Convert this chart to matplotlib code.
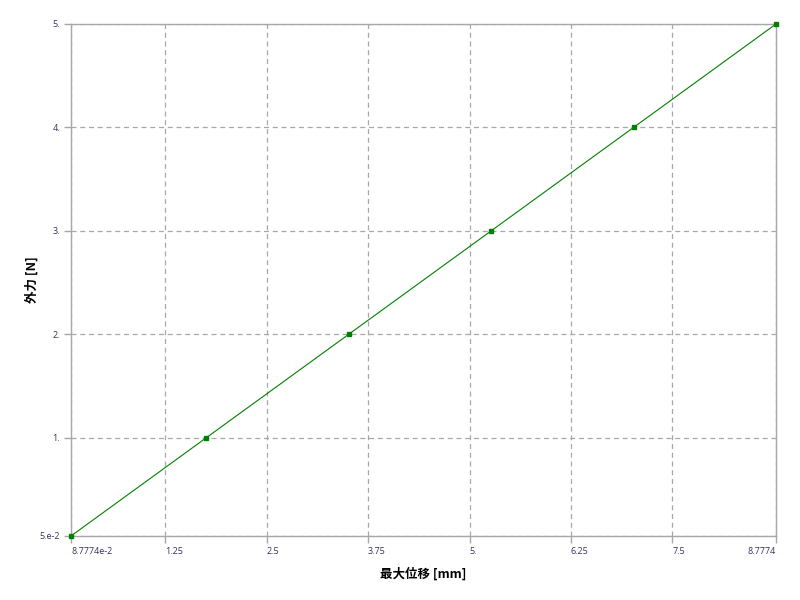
import matplotlib
matplotlib.use("Agg")
import matplotlib.pyplot as plt

plt.rcParams['font.family'] = ['Noto Sans CJK JP', 'DejaVu Sans']

x_disp = [0.087774, 1.7555, 3.5110, 5.2664, 7.0219, 8.7774]
y_force = [0.05, 1.0, 2.0, 3.0, 4.0, 5.0]
x_ticks = [0.087774, 1.25, 2.5, 3.75, 5.0, 6.25, 7.5, 8.7774]
x_tick_labels = ["8.7774e-2", "1.25", "2.5", "3.75", "5.", "6.25", "7.5", "8.7774"]
y_ticks = [0.05, 1.0, 2.0, 3.0, 4.0, 5.0]
y_tick_labels = ["5.e-2", "1.", "2.", "3.", "4.", "5."]
x_label = "最大位移 [mm]"
y_label = "外力 [N]"

fig = plt.figure(figsize=(8, 6), dpi=100)
ax = fig.add_axes([0.08875, 0.10667, 0.88125, 0.85333])

ax.plot(x_disp, y_force, color="#008000", lw=0.8, marker="s", ms=2.2,
        markerfacecolor="#008000", markeredgecolor="#008000", zorder=3, clip_on=False)

ax.set_xlim(x_ticks[0], x_ticks[-1])
ax.set_ylim(y_ticks[0], y_ticks[-1])
ax.set_xticks(x_ticks)
ax.set_xticklabels(x_tick_labels, fontfamily=['Open Sans', 'DejaVu Sans'])
ax.set_yticks(y_ticks)
ax.set_yticklabels(y_tick_labels, fontfamily=['Open Sans', 'DejaVu Sans'])
xl = ax.get_xticklabels()
for i, t in enumerate(xl):
    t.set_ha("right" if i == len(xl) - 1 else "left")

ax.grid(True, color="#a8a8a8", linestyle=(0, (4, 3)), linewidth=0.9)
for s in ax.spines.values():
    s.set_color("#a8a8a8")
    s.set_linewidth(1.0)
ax.tick_params(axis="both", colors="#a8a8a8", labelcolor="#333355", labelsize=6.5,
               length=5, width=1.0, pad=3)

ax.set_xlabel(x_label, fontsize=9, fontweight="bold", labelpad=8)
ax.set_ylabel(y_label, fontsize=9, fontweight="bold", labelpad=0.5)

fig.savefig("out.png", dpi=100)
